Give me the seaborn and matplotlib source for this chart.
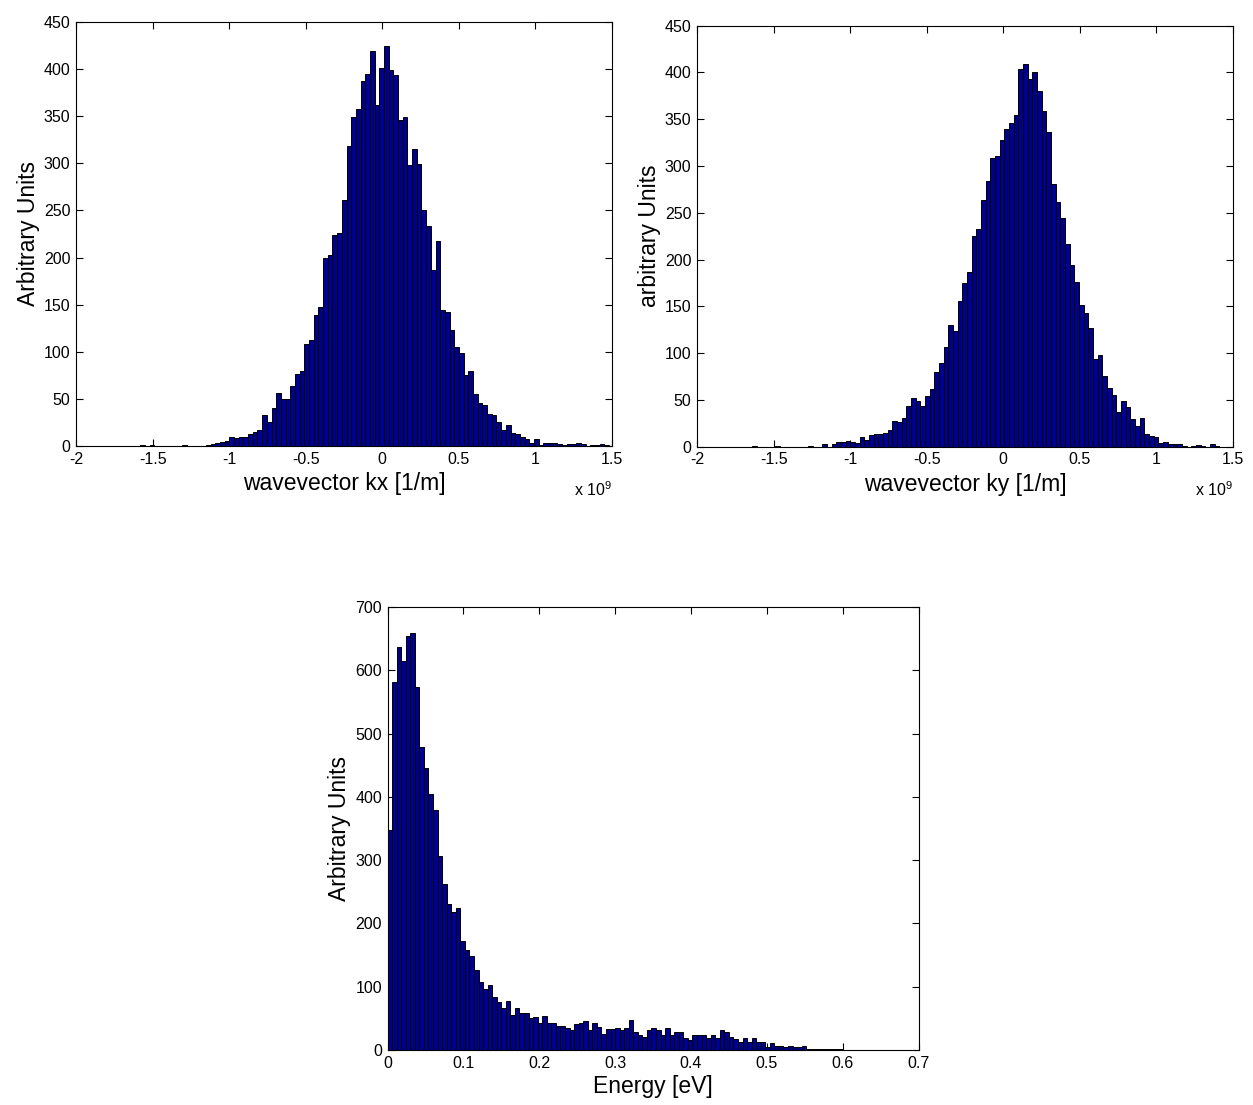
import numpy as np
import pandas as pd
import matplotlib
matplotlib.use("Agg")
import matplotlib.pyplot as plt
import seaborn as sns

# counts per bin (100 bins each)
kx_lo, kx_hi = -1.58, 1.48
kx_counts = [1, 0, 1, 0, 0, 0, 0, 0, 0, 1,
             0, 0, 0, 0, 1, 2, 3, 4, 5, 10,
             8, 10, 10, 13, 15, 17, 33, 26, 40, 56,
             50, 50, 64, 76, 80, 108, 113, 139, 148, 199,
             203, 224, 226, 261, 318, 349, 358, 387, 395, 419,
             362, 401, 425, 399, 394, 346, 349, 298, 315, 299,
             250, 234, 187, 218, 144, 142, 123, 105, 99, 75,
             80, 55, 46, 43, 34, 33, 26, 17, 22, 14,
             13, 10, 7, 3, 7, 1, 3, 3, 3, 2,
             1, 2, 2, 3, 2, 0, 1, 1, 2, 1]

ky_lo, ky_hi = -1.64, 1.41
ky_counts = [1, 0, 0, 0, 0, 1, 0, 0, 0, 0,
             0, 0, 1, 0, 0, 3, 0, 3, 5, 5,
             6, 5, 4, 10, 7, 12, 14, 14, 15, 18,
             27, 26, 31, 43, 52, 49, 44, 54, 62, 80,
             89, 107, 130, 124, 156, 175, 187, 225, 233, 264,
             284, 309, 311, 328, 340, 346, 355, 404, 409, 393,
             400, 380, 359, 336, 281, 262, 244, 217, 194, 176,
             151, 143, 127, 94, 98, 76, 63, 55, 37, 49,
             42, 30, 22, 31, 14, 11, 10, 4, 5, 3,
             3, 3, 1, 0, 1, 2, 1, 0, 3, 1]

en_lo, en_hi = 0.0, 0.6
en_counts = [348, 582, 637, 614, 654, 659, 574, 478, 445, 405,
             380, 306, 262, 231, 218, 225, 172, 158, 149, 127,
             107, 96, 103, 83, 76, 66, 78, 55, 66, 58,
             59, 50, 52, 42, 54, 43, 43, 38, 38, 35,
             32, 41, 43, 46, 32, 43, 37, 26, 33, 33,
             34, 32, 34, 47, 29, 24, 21, 32, 35, 32,
             23, 34, 23, 29, 29, 19, 16, 23, 23, 24,
             19, 23, 19, 32, 28, 21, 18, 13, 19, 13,
             19, 12, 13, 5, 11, 7, 7, 5, 7, 5,
             5, 7, 1, 2, 1, 2, 1, 1, 2, 1]

k_ticks = [-2, -1.5, -1, -0.5, 0, 0.5, 1, 1.5]
k_labels = ["-2", "-1.5", "-1", "-0.5", "0", "0.5", "1", "1.5"]
k_yticks = list(range(0, 451, 50))
en_ticks = [0, 0.1, 0.2, 0.3, 0.4, 0.5, 0.6, 0.7]
en_labels = ["0", "0.1", "0.2", "0.3", "0.4", "0.5", "0.6", "0.7"]
en_yticks = list(range(0, 701, 100))

sns.set_style("ticks")
plt.rcParams["font.family"] = ["Liberation Sans", "DejaVu Sans"]
plt.rcParams["mathtext.fontset"] = "custom"
plt.rcParams["mathtext.rm"] = "Liberation Sans"
plt.rcParams["mathtext.it"] = "Liberation Sans"
for key in ("text.color", "axes.labelcolor", "xtick.color", "ytick.color"):
    plt.rcParams[key] = "black"

BAR = "#00008f"
W, H = 1253, 1105
fig = plt.figure(figsize=(W / 100, H / 100), dpi=100)
ax1 = fig.add_axes([76 / W, 1 - 446 / H, 536 / W, 424 / H])
ax2 = fig.add_axes([697 / W, 1 - 446.7 / H, 536 / W, 421 / H])
ax3 = fig.add_axes([387.5 / W, 1 - 1050 / H, 531 / W, 443 / H])


def draw_hist(ax, lo, hi, counts):
    step = (hi - lo) / len(counts)
    df = pd.DataFrame({"v": lo + step * (np.arange(len(counts)) + 0.5),
                       "n": counts})
    sns.histplot(data=df, x="v", weights="n", bins=len(counts),
                 binrange=(lo, hi), ax=ax, color=BAR, edgecolor="black",
                 linewidth=0.7, alpha=1)


draw_hist(ax1, kx_lo, kx_hi, kx_counts)
draw_hist(ax2, ky_lo, ky_hi, ky_counts)
draw_hist(ax3, en_lo, en_hi, en_counts)

for ax in (ax1, ax2):
    ax.set_xlim(-2, 1.5)
    ax.set_ylim(0, 450)
    ax.set_xticks(k_ticks)
    ax.set_xticklabels(k_labels)
    ax.set_yticks(k_yticks)
    ax.text(1.0, -0.08, "x 10$^{9}$", transform=ax.transAxes,
            ha="right", va="top", fontsize=11.5)

ax3.set_xlim(0, 0.7)
ax3.set_ylim(0, 700)
ax3.set_xticks(en_ticks)
ax3.set_xticklabels(en_labels)
ax3.set_yticks(en_yticks)

ax1.set_xlabel("wavevector kx [1/m]", fontsize=16.5, labelpad=4)
ax1.set_ylabel("Arbitrary Units", fontsize=16.5, labelpad=3)
ax2.set_xlabel("wavevector ky [1/m]", fontsize=16.5, labelpad=4)
ax2.set_ylabel("arbitrary Units", fontsize=16.5, labelpad=3)
ax3.set_xlabel("Energy [eV]", fontsize=16.5, labelpad=3)
ax3.set_ylabel("Arbitrary Units", fontsize=16.5, labelpad=3)

for ax in (ax1, ax2, ax3):
    ax.tick_params(direction="in", top=True, right=True, length=5,
                   width=0.8, labelsize=11.5, pad=4)
    for s in ax.spines.values():
        s.set_visible(True)
        s.set_color("black")
        s.set_linewidth(0.8)

fig.savefig("out.png", dpi=100)
